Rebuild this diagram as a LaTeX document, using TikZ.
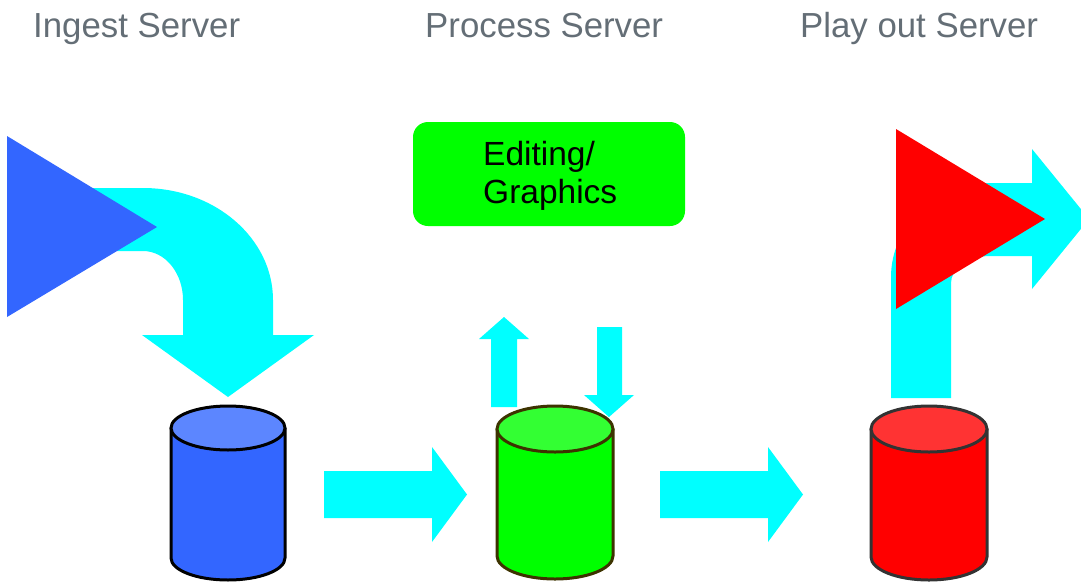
\documentclass[tikz,border=0pt]{standalone}
\usepackage{fontspec}
\setmainfont{Liberation Sans}
\definecolor{flowcyan}{HTML}{00FFFF}
\definecolor{titlegray}{HTML}{646E76}
\definecolor{ingestblue}{HTML}{3366FF}
\definecolor{ingesttop}{HTML}{5C86FF}
\definecolor{procgreen}{HTML}{00FF00}
\definecolor{proctop}{HTML}{33FF33}
\definecolor{procline}{HTML}{3D3300}
\definecolor{playred}{HTML}{FF0000}
\definecolor{playtop}{HTML}{FF3333}
\definecolor{playline}{HTML}{333333}

% drum: centre x, half width, top centre y, bottom centre y, rim radius, body, top, outline
\newcommand\storagedrum[8]{%
  \filldraw[fill=#6, draw=#8, line width=3pt, line join=round]
    (#1-#2,#3) -- (#1-#2,#4)
    arc[start angle=180, end angle=0, x radius=#2, y radius=#5]
    -- (#1+#2,#3) -- cycle;
  \filldraw[fill=#7, draw=#8, line width=3pt]
    (#1,#3) ellipse[x radius=#2, y radius=#5];
}

\begin{document}
\begin{tikzpicture}[x=1pt, y=-1pt,
  title/.style={anchor=base west, inner sep=0pt, text=titlegray,
    font=\fontsize{34.8}{40}\selectfont},
  flow/.style={fill=flowcyan, draw=none}]
\useasboundingbox (0,0) rectangle (1081,581);
\clip (0,0) rectangle (1081,581);

% column titles
\node[title] (ingest)  at (33,37)  {Ingest Server};
\node[title] (process) at (425,37) {Process Server};
\node[title] (playout) at (800,37) {Play out Server};

% incoming feed bending down into the ingest store
\fill[flow] (90,188) -- (143,188)
  arc[start angle=-90, end angle=0, x radius=130, y radius=112]
  -- (273,335) -- (314,335) -- (228,397) -- (142,335) -- (183,335) -- (183,300)
  arc[start angle=0, end angle=-90, x radius=40, y radius=49]
  -- (90,251) -- cycle;
\fill[ingestblue] (7,136) -- (157,227) -- (7,317) -- cycle;

% outgoing feed rising from the play-out store
\fill[flow] (891,398) -- (891,277)
  arc[start angle=180, end angle=270, x radius=102, y radius=94]
  -- (1032,183) -- (1032,149) -- (1089,219) -- (1032,289) -- (1032,256) -- (990,256)
  arc[start angle=270, end angle=180, x radius=39, y radius=27]
  -- (951,398) -- cycle;
\fill[playred] (896,129) -- (1045,219) -- (896,309) -- cycle;

% editing station
\node[fill=procgreen, rounded corners=15pt, minimum width=272pt, minimum height=104pt,
  inner sep=0pt] (edit) at (549,174) {};
\node[anchor=base west, inner sep=0pt, font=\fontsize{33.5}{38}\selectfont] (edit1)
  at (483,165) {Editing/};
\node[anchor=base west, inner sep=0pt, font=\fontsize{33.5}{38}\selectfont] (edit2)
  at (483,203) {Graphics};

% exchange with the editing station
\fill[flow] (491,407) -- (491,339) -- (479,339) -- (504,317) -- (529,339) -- (517,339)
  -- (517,407) -- cycle;
\fill[flow] (597,327) -- (622,327) -- (622,395) -- (634,395) -- (609,417) -- (584,395)
  -- (597,395) -- cycle;

% transfers between stores
\fill[flow] (324,471) -- (432,471) -- (432,447) -- (467,494.5) -- (432,542) -- (432,518)
  -- (324,518) -- cycle;
\fill[flow] (660,471) -- (768,471) -- (768,447) -- (803,494.5) -- (768,542) -- (768,518)
  -- (660,518) -- cycle;

% storage
\storagedrum{228}{57}{428}{558}{22}{ingestblue}{ingesttop}{black}
\storagedrum{555}{58}{429}{556}{23}{procgreen}{proctop}{procline}
\storagedrum{929}{58}{429}{557}{23}{playred}{playtop}{playline}
\coordinate (ingeststore) at (228,490);
\coordinate (processstore) at (555,490);
\coordinate (playstore) at (929,490);
\end{tikzpicture}
\end{document}
